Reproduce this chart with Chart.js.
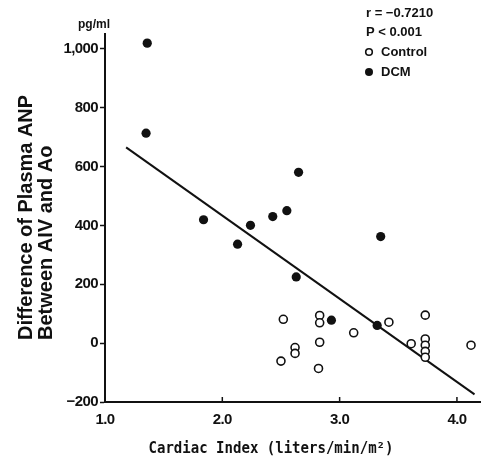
<!DOCTYPE html>
<html>
<head>
<meta charset="utf-8">
<script src="https://cdn.jsdelivr.net/npm/chart.js@4"></script>
<style>
  body { margin: 0; background: #fff; }
  #wrap { width: 486px; height: 461px; position: relative; }
</style>
</head>
<body>
<div id="wrap"><canvas id="cardiac"></canvas></div>
<script>
// DCM patients (filled dots)
const dcmIndex = [1.36, 1.35, 1.84, 2.13, 2.24, 2.43, 2.55, 2.65, 2.63, 2.93, 3.32, 3.35];
const dcmAnp   = [1019, 713, 419, 336, 400, 430, 450, 580, 225, 78, 60, 362];

// controls (open circles)
const ctlIndex = [2.52, 2.50, 2.62, 2.62, 2.83, 2.83, 2.83, 2.82, 3.12, 3.42, 3.61, 3.73, 3.73, 3.73, 3.73, 3.73, 4.12];
const ctlAnp   = [81, -61, -15, -35, 94, 69, 3, -86, 35, 71, -2, 95, 14, -7, -28, -48, -7];

// regression line ends
const fitIndex = [1.18, 4.15];
const fitAnp   = [665, -174];

const xTicks = [1, 2, 3, 4];
const yTicks = [-200, 0, 200, 400, 600, 800, 1000];

const ink = '#111';
const tickFont = { family: '"Liberation Sans", Arial, sans-serif', size: 15, weight: 'bold' };

const toPts = (xs, ys) => xs.map((x, i) => ({ x: x, y: ys[i] }));

const extras = {
  id: 'extras',
  beforeDraw(chart) {
    // squeeze the tick digits a bit, they are condensed in the original
    chart.ctx.letterSpacing = '-0.6px';
  },
  afterDraw(chart) {
    const ctx = chart.ctx;
    const xs = chart.scales.x;
    ctx.letterSpacing = '0px';
    ctx.save();
    ctx.fillStyle = ink;
    ctx.strokeStyle = ink;

    // short inward ticks on the x axis
    ctx.lineWidth = 1.5;
    xTicks.forEach(v => {
      const px = xs.getPixelForValue(v);
      ctx.beginPath();
      ctx.moveTo(px, xs.top);
      ctx.lineTo(px, xs.top - 5);
      ctx.stroke();
    });

    // y title, two lines, bottom aligned
    ctx.save();
    ctx.translate(26, 340);
    ctx.rotate(-Math.PI / 2);
    ctx.font = 'bold 20px "Liberation Sans", Arial, sans-serif';
    ctx.textAlign = 'left';
    ctx.textBaseline = 'middle';
    ctx.fillText('Difference of Plasma ANP', 0, 0, 245);
    ctx.fillText('Between AIV and Ao', 0, 20, 205);
    ctx.restore();

    // x title
    ctx.font = 'bold 15px "DejaVu Sans Mono", monospace';
    ctx.textAlign = 'center';
    ctx.textBaseline = 'middle';
    ctx.fillText('Cardiac Index (liters/min/m²)', 271, 449, 245);

    // unit
    ctx.font = 'bold 12px "Liberation Sans", Arial, sans-serif';
    ctx.textAlign = 'left';
    ctx.fillText('pg/ml', 78, 25);

    // stats and legend
    ctx.font = 'bold 13px "Liberation Sans", Arial, sans-serif';
    ctx.fillText('r = \u22120.7210', 366, 13);
    ctx.fillText('P < 0.001', 366, 32);
    ctx.fillText('Control', 381, 52);
    ctx.fillText('DCM', 381, 72);
    ctx.lineWidth = 1.6;
    ctx.beginPath();
    ctx.arc(369, 52, 3.3, 0, Math.PI * 2);
    ctx.stroke();
    ctx.beginPath();
    ctx.arc(369, 72, 4, 0, Math.PI * 2);
    ctx.fill();
    ctx.restore();
  }
};

new Chart('cardiac', {
  type: 'scatter',
  data: {
    datasets: [
      {
        label: 'Control',
        data: toPts(ctlIndex, ctlAnp),
        pointRadius: 4,
        pointBackgroundColor: '#fff',
        pointBorderColor: ink,
        pointBorderWidth: 1.6
      },
      {
        label: 'DCM',
        data: toPts(dcmIndex, dcmAnp),
        pointRadius: 4.6,
        pointBackgroundColor: ink,
        pointBorderColor: ink,
        pointBorderWidth: 0
      },
      {
        type: 'line',
        label: 'fit',
        data: toPts(fitIndex, fitAnp),
        borderColor: ink,
        borderWidth: 2,
        pointRadius: 0,
        fill: false
      }
    ]
  },
  options: {
    responsive: true,
    maintainAspectRatio: false,
    animation: false,
    layout: { padding: { left: 0, right: 4, top: 34, bottom: 0 } },
    plugins: {
      legend: { display: false },
      tooltip: { enabled: false }
    },
    scales: {
      x: {
        type: 'linear',
        min: 1,
        max: 4.2,
        afterFit: s => { s.height = 59; },
        afterBuildTicks: s => { s.ticks = xTicks.map(v => ({ value: v })); },
        grid: { display: false, tickLength: 0 },
        border: { display: true, color: ink, width: 2 },
        ticks: {
          padding: 9,
          color: ink,
          font: tickFont,
          maxRotation: 0,
          callback: v => v.toFixed(1)
        }
      },
      y: {
        type: 'linear',
        min: -200,
        max: 1050,
        afterFit: s => { s.width = 105; },
        afterBuildTicks: s => { s.ticks = yTicks.map(v => ({ value: v })); },
        grid: { display: true, drawOnChartArea: false, tickLength: 5, tickWidth: 1.5, tickColor: ink },
        border: { display: true, color: ink, width: 2 },
        ticks: {
          padding: 2,
          color: ink,
          font: tickFont,
          callback: v => v === 1000 ? '1,000' : (v < 0 ? '\u2212' + Math.abs(v) : String(v))
        }
      }
    }
  },
  plugins: [extras]
});
</script>
</body>
</html>
